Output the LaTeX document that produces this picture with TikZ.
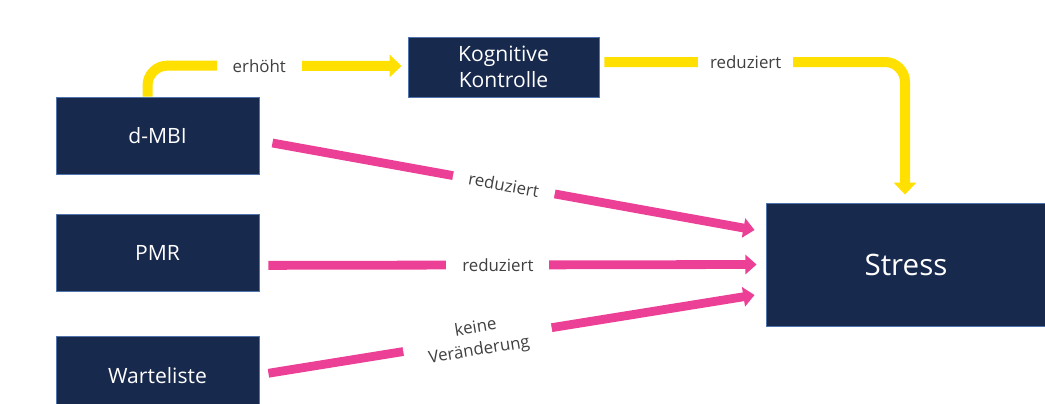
\documentclass[tikz,border=0pt]{standalone}
\usepackage{fontspec}
\setmainfont{Open Sans}
\usepackage{xcolor}
\usetikzlibrary{arrows.meta, positioning, calc}
\definecolor{boxfill}{RGB}{24, 41, 78}
\definecolor{boxedge}{RGB}{82, 116, 172}
\definecolor{gold}{RGB}{255, 224, 0}
\definecolor{pinkline}{RGB}{236, 64, 150}
\definecolor{textgray}{RGB}{64, 64, 64}
\tikzstyle{box} = [rectangle, minimum width=5.075cm, minimum height=1.925cm, inner sep=0pt, align=center, draw=boxedge, line width=0.6pt, fill=boxfill, text=white, font=\fontsize{15}{18.5}\selectfont]
\tikzstyle{edgetext} = [fill=white, sharp corners, text=textgray, inner xsep=0.4cm, inner ysep=1pt, align=center, font=\fontsize{12}{16}\selectfont]
\tikzstyle{yarrow} = [draw=gold, line width=0.25cm, rounded corners=0.5cm, -{Triangle[length=0.3cm, width=0.55cm]}]
\tikzstyle{parrow} = [draw=pinkline, line width=0.22cm, -{Triangle[length=0.28cm, width=0.48cm]}]

\begin{document}
\begin{tikzpicture}[x=0.025cm, y=-0.025cm]

\useasboundingbox (0,0) rectangle (1045,403);

% Interventions (left column)
\node[box] (mbi) at (157.5,135.5) {d-MBI};
\node[box, below=1cm of mbi] (pmr) {PMR};
\node[box, below=1.1cm of pmr] (warte) {Warteliste};

% Mediator and outcome
\node[box, minimum width=4.775cm, minimum height=1.5cm] (kog) at (503.5,67) {Kognitive\\Kontrolle};
\node[box, minimum width=7cm, minimum height=3.075cm, font=\fontsize{21}{24}\selectfont] (stress) at (906,264.5) {Stress};

% Yellow path via cognitive control
\draw[yarrow] ($(mbi.north)+(-10,0)$) -- ++(0,-31)
    -- node[edgetext, pos=0.44] {erhöht} ($(kog.west)+(-6,-1)$);
\draw[yarrow] ($(kog.east)+(5,-5)$)
    -| node[edgetext, pos=0.235, inner xsep=0.3cm] {reduziert} ($(stress.north)+(-1,-8)$);

% Direct effects on stress
\draw[parrow] ($(mbi.east)+(13,7.5)$)
    -- node[edgetext, sloped, pos=0.48] {reduziert} ($(stress.west)+(-11,-34.5)$);
\draw[parrow] ($(pmr.east)+(9,12)$)
    -- node[edgetext, pos=0.47] {reduziert} ($(stress.west)+(-9,0)$);
\draw[parrow] ($(warte.east)+(9,-2)$)
    -- node[edgetext, sloped, pos=0.43, inner xsep=0.6cm] {keine\\Veränderung} ($(stress.west)+(-11,30.5)$);

\end{tikzpicture}
\end{document}
